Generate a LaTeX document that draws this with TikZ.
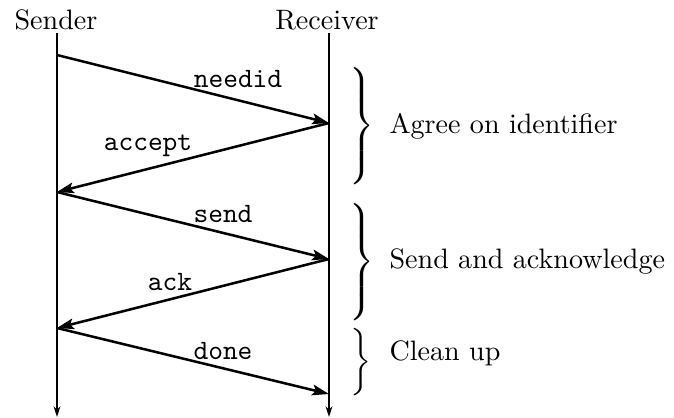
\documentclass[tikz,border=0pt]{standalone}
\usetikzlibrary{arrows.meta}
\newcommand\sizedbrace[1]{{\nulldelimiterspace=0pt$\left.\vcenter{\hbox{\vrule height #1 width 0pt}}\right\}$}}
\begin{document}
\begin{tikzpicture}[x=0.356pt, y=-0.356pt,
    lifeline/.style={line width=0.7pt, -{Stealth[length=3.8pt,width=2.4pt]}},
    msg/.style={line width=0.9pt, -{Stealth[length=6pt,width=3.8pt,inset=1.2pt]}},
    msglabel/.style={font=\ttfamily, anchor=base, inner sep=0pt},
    phase/.style={anchor=base west, inner sep=0pt},
    bracenode/.style={anchor=west, inner sep=0pt}]
  \useasboundingbox (0,0) rectangle (674,417);

  % participants
  \node[anchor=base, inner sep=0pt] (sender) at (56,29) {Sender};
  \node[anchor=base, inner sep=0pt] (receiver) at (327,29) {Receiver};

  % event points on the two lifelines
  \coordinate (stop) at (57,33);
  \coordinate (sbot) at (57,417);
  \coordinate (rtop) at (329,33);
  \coordinate (rbot) at (329,417);
  \coordinate (s1) at (57,55);
  \coordinate (r1) at (329,123);
  \coordinate (s2) at (57,192);
  \coordinate (r2) at (329,259);
  \coordinate (s3) at (57,328);
  \coordinate (r3) at (329,394);

  % lifelines
  \draw[lifeline] (stop) -- (sbot);
  \draw[lifeline] (rtop) -- (rbot);

  % messages
  \draw[msg] (s1) -- (r1);
  \draw[msg] (r1) -- (s2);
  \draw[msg] (s2) -- (r2);
  \draw[msg] (r2) -- (s3);
  \draw[msg] (s3) -- (r3);

  \node[msglabel] (lneedid) at (238,87) {needid};
  \node[msglabel] (laccept) at (148,150) {accept};
  \node[msglabel] (lsend) at (223,222) {send};
  \node[msglabel] (lack) at (170,290) {ack};
  \node[msglabel] (ldone) at (223,359) {done};

  % phases
  \node[bracenode] (b1) at (349,126) {\sizedbrace{40.5pt}};
  \node[bracenode] (b2) at (349,262) {\sizedbrace{42pt}};
  \node[bracenode] (b3) at (350,362) {\sizedbrace{22.5pt}};

  \node[phase] (p1) at (389,133) {Agree on identifier};
  \node[phase] (p2) at (389,268) {Send and acknowledge};
  \node[phase] (p3) at (389,360) {Clean up};
\end{tikzpicture}
\end{document}
